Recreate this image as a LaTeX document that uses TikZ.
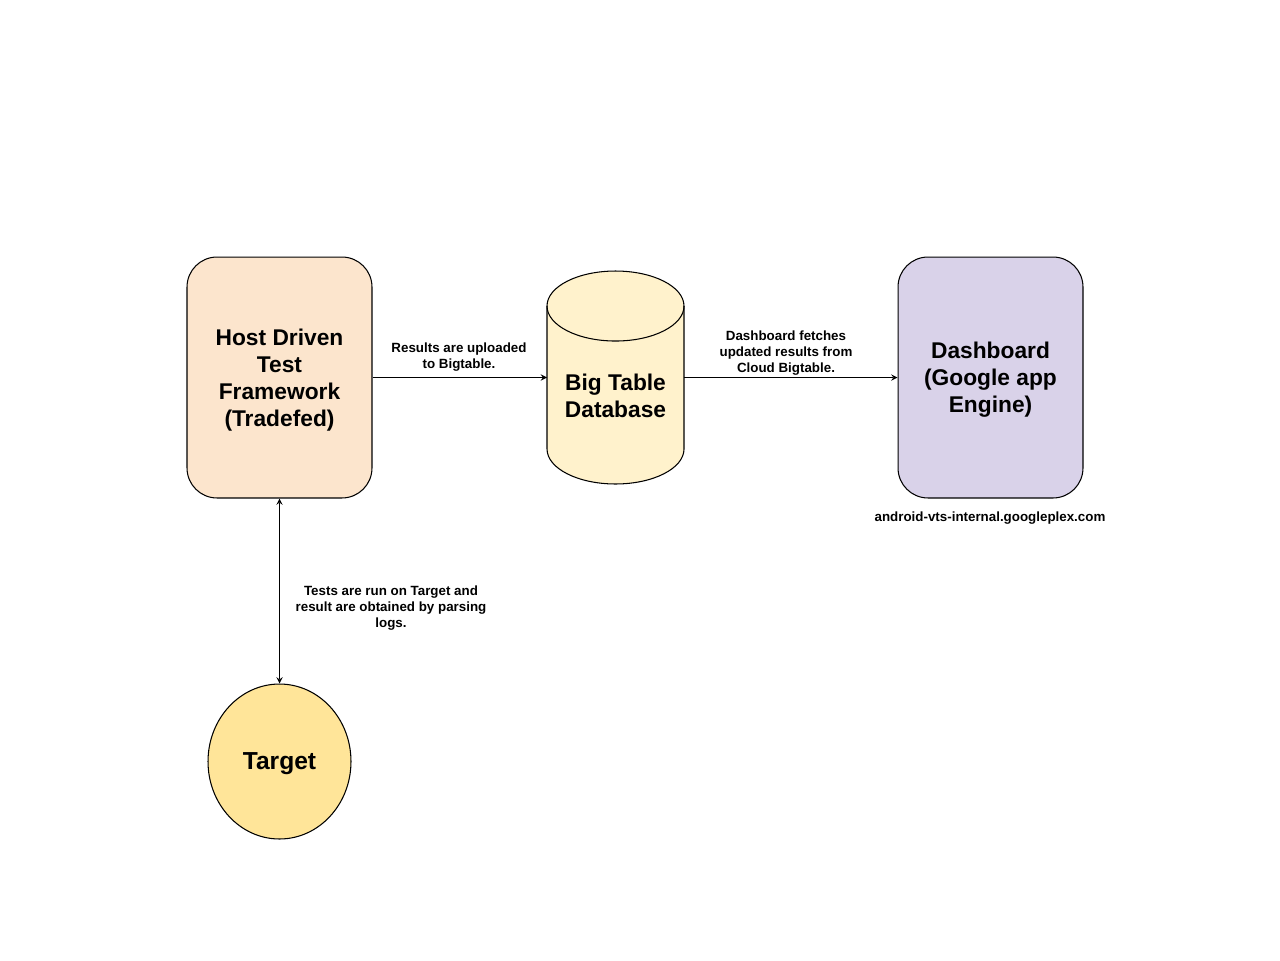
\documentclass[tikz,border=0pt]{standalone}
\usepackage{fontspec}
\setmainfont{Liberation Sans}
\usetikzlibrary{shapes.geometric}
\definecolor{hostfill}{HTML}{FCE5CD}
\definecolor{tablefill}{HTML}{FFF2CC}
\definecolor{dashfill}{HTML}{D9D2E9}
\definecolor{targetfill}{HTML}{FFE599}
\tikzset{
	bigtext/.style={align=center,text depth=0pt,font=\fontsize{12.95}{15.4}\selectfont\bfseries},
	bigbox/.style={bigtext,draw,rounded corners=0.6cm,minimum width=3.7cm,minimum height=4.82cm},
	smalltext/.style={align=center,inner sep=0pt,font=\fontsize{7.6}{9.1}\selectfont\bfseries}
}
\begin{document}
\begin{tikzpicture}[x=0.02cm,y=-0.02cm,>=stealth,line width=0.6pt,line join=round]
	% Khung
	\useasboundingbox (0,0) rectangle (1280,960);
	% Các khối
	\node [bigbox,fill=hostfill] (host) at (279.5,377.5) {Host Driven\\Test\\Framework\\(Tradefed)};
	\node [minimum width=2.74cm,minimum height=4.26cm,outer sep=0pt] (bigtable) at (615.5,377.5) {};
	\filldraw [fill=tablefill] ([yshift=-0.7cm]bigtable.north west) -- ([yshift=0.7cm]bigtable.south west)
		arc [start angle=180,end angle=0,x radius=68.5,y radius=35]
		-- ([yshift=-0.7cm]bigtable.north east)
		arc [start angle=0,end angle=-180,x radius=68.5,y radius=35] -- cycle;
	\draw ([yshift=-0.7cm]bigtable.north west) arc [start angle=180,end angle=0,x radius=68.5,y radius=35];
	\node [bigtext] (bigtabletext) at (615.5,395.5) {Big Table\\Database};
	\node [bigbox,fill=dashfill] (dash) at (990.5,377.5) {Dashboard\\(Google app\\Engine)};
	\node [bigtext,draw,fill=targetfill,ellipse,minimum width=2.86cm,minimum height=3.1cm,font=\fontsize{14}{16}\selectfont\bfseries] (target) at (279.5,761.5) {Target};
	% Mũi tên
	\draw [->] (host) -- (bigtable);
	\draw [->] (bigtable) -- (dash);
	\draw [<->] (host) -- (target);
	% Nhãn
	\node [smalltext] (upload) at (459,357) {Results are uploaded\\to Bigtable.};
	\node [smalltext] (fetch) at (786,353) {Dashboard fetches\\updated results from\\Cloud Bigtable.};
	\node [smalltext] (tests) at (391,608) {Tests are run on Target and\\result are obtained by parsing\\logs.};
	\node [smalltext] (url) at (990,518) {android-vts-internal.googleplex.com};
\end{tikzpicture}
\end{document}
